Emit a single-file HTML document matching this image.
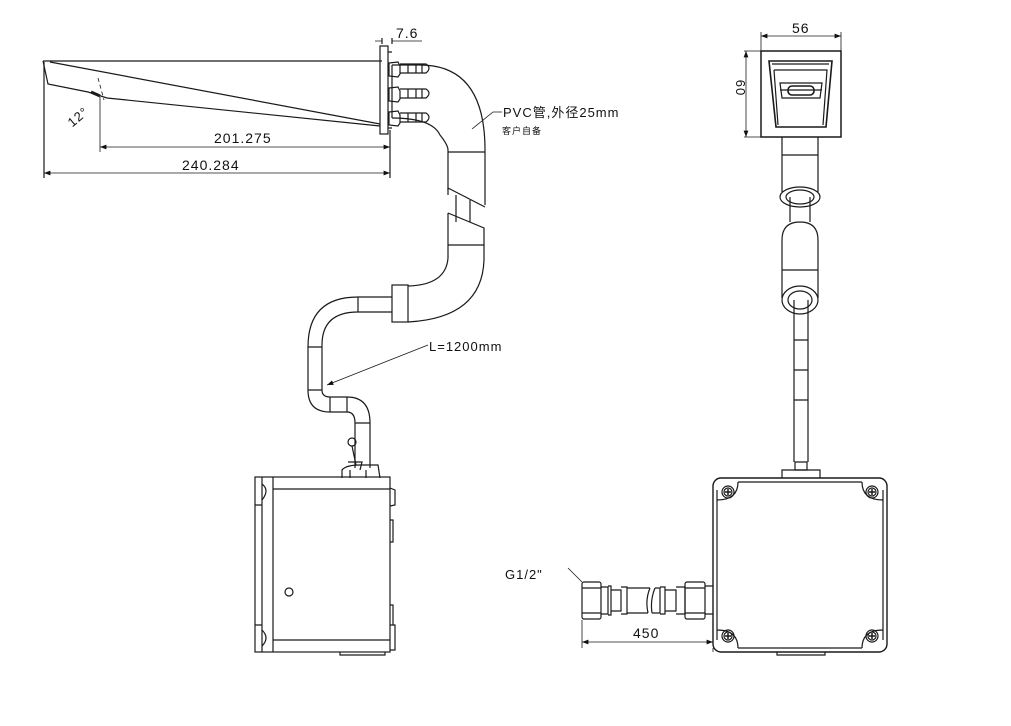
<!DOCTYPE html>
<html><head><meta charset="utf-8"><style>
html,body{margin:0;padding:0;background:#fff;}
svg{display:block;}
text{font-family:"Liberation Sans","Noto Sans CJK SC",sans-serif;fill:#111;letter-spacing:1px;}
</style></head><body>
<svg width="1011" height="726" viewBox="0 0 1011 726" xmlns="http://www.w3.org/2000/svg">
<defs>
<marker id="ar" markerWidth="8" markerHeight="6" refX="8" refY="3" orient="auto"><path d="M0,0 L8,3 L0,6 z" fill="#111"/></marker>
<marker id="al" markerWidth="8" markerHeight="6" refX="0" refY="3" orient="auto"><path d="M8,0 L0,3 L8,6 z" fill="#111"/></marker>
</defs>
<g fill="none" stroke="#1a1a1a" stroke-width="1.2">
<path d="M43,61 L382,61"/>
<path d="M43,61 L48,84 L88,92 L107,98 L380,126"/>
<path d="M50,62 L380,124"/>
<path d="M91,92 L100,96" stroke-width="3"/>
<path d="M100,97 L100,152" stroke-width="0.8"/>
<path d="M98,78 L104,100" stroke-dasharray="4,3" stroke-width="0.8"/>
<rect x="380" y="46" width="8" height="88"/>
<path d="M388,52 L392,52 M388,128 L392,128" />
<g>
<path d="M389,63 L398,62 L400,66 L400,74 L398,77 L389,76 z"/>
<path d="M400,64 L426,64 Q432,68 426,73 L400,73"/>
<path d="M408,64 L408,73 M416,64 L416,73 M422,64 L422,73"/>
<path d="M389,88 L398,87 L400,91 L400,99 L398,102 L389,101 z"/>
<path d="M400,89 L426,89 Q432,93 426,98 L400,98"/>
<path d="M408,89 L408,98 M416,89 L416,98 M422,89 L422,98"/>
<path d="M389,112 L398,111 L400,115 L400,123 L398,126 L389,125 z"/>
<path d="M400,113 L426,113 Q432,117 426,122 L400,122"/>
<path d="M408,113 L408,122 M416,113 L416,122 M422,113 L422,122"/>
</g>
<path d="M392,65 L420,65 Q485,65 485,150 L485,205"/>
<path d="M392,118 Q432,118 440,135 Q448,145 448,150 L448,190"/>
<path d="M392,65 L392,118"/>
<path d="M448,152 L485,152"/>
<path d="M448,188 L485,207"/>
<path d="M448,188 L448,195"/>
<path d="M456,195 L456,222 M470,200 L470,222"/>
<path d="M448,213 L484,228 L484,245"/>
<path d="M448,213 L448,245"/>
<path d="M448,245 L484,245"/>
<path d="M484,245 L484,260 Q482,318 408,322"/>
<path d="M448,245 L448,258 Q446,285 408,286"/>
<rect x="392" y="285" width="16" height="37"/>
<path d="M392,297 L358,297 Q308,297 308,347 L308,390 Q308,412 330,412 L347,412 Q355,412 355,423 L355,468"/>
<path d="M392,312 L358,312 Q322,312 322,345 L322,390 Q322,397 330,397 L347,397 Q370,397 370,423 L370,468"/>
<path d="M358,297 L358,312 M308,347 L322,347 M308,390 L322,390 M330,397 L330,412 M347,397 L347,412 M355,423 L370,423"/>
<circle cx="352" cy="442" r="4"/>
<path d="M352,446 L356,465 M348,462 L362,462 L360,470"/>
<path d="M342,478 L342,470 Q346,465 360,465 L378,465 L380,478"/>
<path d="M350,470 L350,478 M366,470 L366,478"/>
<rect x="255" y="477" width="135" height="175"/>
<path d="M262,477 L262,652 M273,477 L273,652"/>
<path d="M273,489 L390,489 M273,640 L390,640"/>
<path d="M255,505 L262,505 M255,625 L262,625"/>
<path d="M262,484 Q270,490 262,500 M262,630 Q270,638 262,646"/>
<circle cx="289" cy="592" r="4"/>
<path d="M390,488 L395,490 L395,505 L390,506 M390,520 L393,520 L393,542 L390,542 M390,605 L393,605 L393,625 M390,625 L395,625 L395,650 L390,650"/>
<path d="M340,652 L340,655 L385,655 L385,652"/>
<path d="M44,62 L44,178 M390,130 L390,178 M382,44 L382,38 M392,44 L392,38"/>
<path d="M100,147 L390,147" marker-start="url(#al)" marker-end="url(#ar)" stroke-width="0.8"/>
<path d="M44,173 L390,173" marker-start="url(#al)" marker-end="url(#ar)" stroke-width="0.8"/>
<path d="M375,41 L382,41 M392,41 L422,41" stroke-width="0.8"/>
<path d="M472,129 L493,112 L502,112" stroke-width="0.8"/>
<path d="M428,345 L327,385" marker-end="url(#ar)" stroke-width="0.8"/>
<rect x="761" y="51" width="80" height="86" stroke-width="1.5"/>
<path d="M769,61 L832,61 L826,127 L776,127 z" stroke-width="1.6"/>
<path d="M772,64 L829,64 M774,70 L827,70 L823,125 M774,70 L778,125"/>
<path d="M780,83 L822,83 L820,98 L782,98 z M780,90 L822,90"/>
<rect x="788" y="86" width="26" height="9" rx="4" stroke-width="1.6"/>
<path d="M746,51 L746,137" marker-start="url(#al)" marker-end="url(#ar)" stroke-width="0.8"/>
<path d="M744,51 L761,51 M744,137 L761,137" stroke-width="0.8"/>
<path d="M761,36 L841,36" marker-start="url(#al)" marker-end="url(#ar)" stroke-width="0.8"/>
<path d="M761,32 L761,51 M841,32 L841,51" stroke-width="0.8"/>
<path d="M782,137 L782,192 M818,137 L818,192 M782,155 L818,155"/>
<ellipse cx="800" cy="197" rx="20" ry="10"/>
<ellipse cx="800" cy="197" rx="14" ry="7"/>
<path d="M790,197 L790,222 M810,197 L810,222"/>
<path d="M782,240 Q782,222 800,222 Q818,222 818,240 L818,298 M782,240 L782,298"/>
<path d="M782,270 L818,270"/>
<ellipse cx="800" cy="300" rx="18" ry="14"/>
<ellipse cx="800" cy="300" rx="12" ry="9"/>
<path d="M794,300 L794,462 M808,300 L808,462 M794,340 L808,340 M794,370 L808,370 M794,400 L808,400"/>
<path d="M795,462 L807,462 L807,470 L795,470 z"/>
<path d="M782,478 L782,470 L820,470 L820,478"/>
<rect x="713" y="478" width="174" height="174" rx="8" stroke-width="1.4"/>
<path d="M717,490 L717,640 M883,490 L883,640"/>
<path d="M738,482 L862,482 M738,648 L862,648"/>
<path d="M717,500 Q738,500 738,482 M883,500 Q862,500 862,482 M717,630 Q738,630 738,648 M883,630 Q862,630 862,648"/>
<g>
<circle cx="728" cy="492" r="6"/><circle cx="728" cy="492" r="4"/>
<circle cx="872" cy="492" r="6"/><circle cx="872" cy="492" r="4"/>
<circle cx="728" cy="636" r="6"/><circle cx="728" cy="636" r="4"/>
<circle cx="872" cy="636" r="6"/><circle cx="872" cy="636" r="4"/>
<path d="M725,492 L731,492 M728,489 L728,495 M869,492 L875,492 M872,489 L872,495 M725,636 L731,636 M728,633 L728,639 M869,636 L875,636 M872,633 L872,639" stroke-width="1.5"/>
</g>
<path d="M777,652 L777,655 L825,655 L825,652"/>
<rect x="582" y="582" width="19" height="37" rx="2"/>
<path d="M582,588 L601,588 M582,613 L601,613"/>
<path d="M601,587 L608,587 L608,614 L601,614 M608,586 L611,586 L611,615 L608,615"/>
<path d="M611,590 L621,590 L621,611 L611,611"/>
<path d="M621,587 L627,587 L627,614 L621,614"/>
<path d="M627,588 L650,588 M627,613 L648,613 M650,588 Q645,600 648,613 M655,588 Q650,600 652,613"/>
<path d="M655,588 L660,588 L660,613 L652,613 M660,587 L665,587 L665,614 L660,614"/>
<path d="M665,590 L676,590 L676,611 L665,611 M676,587 L685,587 L685,614 L676,614"/>
<rect x="685" y="582" width="20" height="37" rx="2"/>
<path d="M685,588 L705,588 M685,613 L705,613"/>
<path d="M705,586 L713,586 M705,614 L713,614"/>
<path d="M582,620 L582,648 M713,652 L713,648" stroke-width="0.8"/>
<path d="M582,642 L713,642" marker-start="url(#al)" marker-end="url(#ar)" stroke-width="0.8"/>
<path d="M568,568 L582,582" stroke-width="0.8"/>
</g>
<text x="396" y="38" font-size="14">7.6</text>
<text x="214" y="143" font-size="14">201.275</text>
<text x="182" y="170" font-size="14">240.284</text>
<text x="68" y="124" font-size="13" transform="rotate(-40 75 120)">12°</text>
<text x="503" y="117" font-size="13">PVC管,外径25mm</text>
<text x="502" y="134" font-size="9">客户自备</text>
<text x="429" y="351" font-size="13">L=1200mm</text>
<text x="792" y="33" font-size="14">56</text>
<text x="741" y="93" font-size="13" transform="rotate(90 741 88)" text-anchor="middle">60</text>
<text x="505" y="579" font-size="13">G1/2"</text>
<text x="633" y="638" font-size="14">450</text>
</svg>
</body></html>
